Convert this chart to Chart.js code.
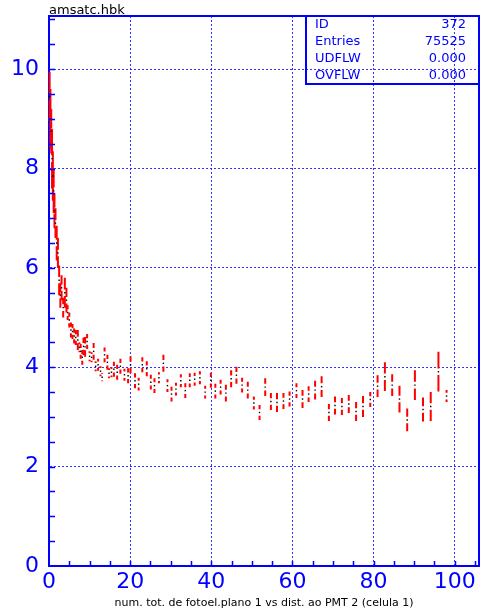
<!DOCTYPE html>
<html>
<head>
<meta charset="utf-8">
<script src="https://cdn.jsdelivr.net/npm/chart.js@4.4.1/dist/chart.umd.min.js"></script>
<style>
  html, body { margin: 0; padding: 0; background: #fff; }
  #caixa { width: 483px; height: 614px; }
</style>
</head>
<body>
<div id="caixa"><canvas id="grafico"></canvas></div>
<script>
// pontos do perfil (distancia, media, erro)
const posX = [
  0.15, 0.35, 0.55, 0.75, 0.95, 1.15, 1.35, 1.6, 1.9, 2.2,
  2.5, 2.8, 3.1, 3.5, 3.9, 4.3, 4.6, 5.0, 5.4, 5.8,
  6.2, 6.6, 7.1, 7.5, 7.8, 8.2, 8.5, 8.9, 9.4, 10.0,
  10.5, 11.0, 11.5, 12.1, 12.7, 13.1, 13.7, 14.4, 14.8, 15.4,
  16.0, 16.8, 17.6, 18.6, 19.5,
  20.1, 21.2, 22.1, 23.0, 24.1, 25.1, 26.0, 27.1, 28.2, 29.2,
  30.2, 31.3, 32.5, 33.6, 34.7, 35.9, 37.2, 38.5, 39.9, 41.0,
  42.3, 43.6, 44.9, 46.2, 47.6, 49.0, 50.5, 51.9, 53.3, 54.7,
  56.2, 57.8, 59.3, 61.0, 62.5, 64.0, 65.6, 67.2, 69.0, 70.5,
  72.2, 73.9, 75.7, 77.4, 79.2, 81.0, 82.8, 84.6, 86.4, 88.3,
  90.2, 92.2, 94.1, 96.0, 98.0
];
const media = [
  9.45, 9.0, 8.75, 8.2, 7.85, 7.55, 7.15, 6.9, 6.5, 6.3,
  5.75, 5.45, 5.6, 5.2, 5.5, 5.35, 5.1, 4.95, 4.75, 4.72,
  4.63, 4.6, 4.55, 4.4, 4.32, 4.2, 4.42, 4.41, 4.52, 4.22,
  4.2, 4.32, 4.02, 4.05, 3.92, 3.8, 4.25, 4.1, 3.88, 3.9,
  3.96, 3.9, 4.02, 3.85, 3.83,
  4.05, 3.73, 3.66, 4.05, 3.97, 3.70, 3.63, 3.79, 4.08, 3.63,
  3.46, 3.56, 3.73, 3.53, 3.74, 3.76, 3.79, 3.50, 3.74, 3.52,
  3.60, 3.48, 3.77, 3.84, 3.64, 3.54, 3.28, 3.09, 3.60, 3.31,
  3.29, 3.32, 3.36, 3.53, 3.36, 3.46, 3.54, 3.61, 3.09, 3.23,
  3.21, 3.26, 3.11, 3.21, 3.35, 3.62, 3.81, 3.64, 3.36, 2.94,
  3.64, 3.15, 3.21, 3.91, 3.42
];
const erro = [
  0.5, 0.6, 0.45, 0.6, 0.5, 0.45, 0.35, 0.3, 0.35, 0.3,
  0.3, 0.25, 0.25, 0.2, 0.3, 0.25, 0.15, 0.15, 0.15, 0.15,
  0.15, 0.15, 0.2, 0.1, 0.15, 0.15, 0.18, 0.2, 0.15, 0.1,
  0.1, 0.17, 0.1, 0.12, 0.1, 0.08, 0.15, 0.15, 0.1, 0.1,
  0.15, 0.15, 0.15, 0.12, 0.15,
  0.17, 0.15, 0.13, 0.15, 0.15, 0.15, 0.15, 0.11, 0.17, 0.13,
  0.15, 0.13, 0.13, 0.15, 0.14, 0.13, 0.13, 0.13, 0.15, 0.15,
  0.15, 0.17, 0.17, 0.17, 0.15, 0.17, 0.13, 0.15, 0.18, 0.17,
  0.19, 0.16, 0.15, 0.15, 0.18, 0.16, 0.19, 0.21, 0.17, 0.18,
  0.17, 0.18, 0.19, 0.21, 0.15, 0.22, 0.29, 0.22, 0.27, 0.23,
  0.30, 0.24, 0.29, 0.40, 0.12
];

const ticksX = [0, 20, 40, 60, 80, 100];
const ticksY = [0, 2, 4, 6, 8, 10];
const estatNomes = ['ID', 'Entries', 'UDFLW', 'OVFLW'];
const estatValores = ['372', '75525', '0.000', '0.000'];
const nomeArquivo = 'amsatc.hbk';
const tituloX = 'num. tot. de fotoel.plano 1 vs dist. ao PMT 2 (celula 1)';

const azul = '#0000ff';
const corGrade = 'rgba(30, 30, 255, 0.9)';

// barras de erro vermelhas com um buraco em volta do ponto
const barrasErro = {
  id: 'barrasErro',
  beforeDatasetsDraw(chart) {
    const { ctx, scales: { x, y } } = chart;
    const buraco = 3.3;
    ctx.save();
    ctx.strokeStyle = '#ff0000';
    ctx.lineWidth = 2;
    ctx.beginPath();
    posX.forEach((v, i) => {
      const px = x.getPixelForValue(v);
      const pm = y.getPixelForValue(media[i]);
      const pCima = y.getPixelForValue(media[i] + erro[i]);
      const pBaixo = y.getPixelForValue(media[i] - erro[i]);
      if (pm - pCima > buraco) {
        ctx.moveTo(px, pCima);
        ctx.lineTo(px, pm - buraco);
      }
      if (pBaixo - pm > buraco) {
        ctx.moveTo(px, pm + buraco);
        ctx.lineTo(px, pBaixo);
      }
    });
    ctx.stroke();
    ctx.restore();
  }
};

// moldura, tracinhos para dentro, caixa de estatistica e nome do arquivo
const moldura = {
  id: 'moldura',
  afterDraw(chart) {
    const { ctx, chartArea: a, scales: { x, y } } = chart;
    ctx.save();
    ctx.strokeStyle = azul;
    ctx.lineWidth = 2;
    ctx.beginPath();
    ctx.moveTo(a.left, a.top);
    ctx.lineTo(a.right, a.top);
    ctx.lineTo(a.right, a.bottom);
    ctx.stroke();

    ctx.lineWidth = 1.5;
    ctx.beginPath();
    for (let v = 5; v < x.max; v += 5) {
      const px = Math.round(x.getPixelForValue(v)) + 0.5;
      ctx.moveTo(px, a.bottom);
      ctx.lineTo(px, a.bottom - 5);
    }
    for (let v = 0.5; v < y.max; v += 0.5) {
      const py = Math.round(y.getPixelForValue(v)) + 0.5;
      ctx.moveTo(a.left, py);
      ctx.lineTo(a.left + 6, py);
    }
    ctx.stroke();

    // caixa de estatistica
    const bx = 306, bw = a.right - bx, bh = 68;
    ctx.lineWidth = 2;
    ctx.strokeRect(bx, a.top, bw, bh);
    ctx.fillStyle = azul;
    ctx.font = '13px "DejaVu Sans"';
    ctx.textBaseline = 'middle';
    estatNomes.forEach((nome, i) => {
      const ly = a.top + 9 + i * 17;
      ctx.textAlign = 'left';
      ctx.fillText(nome, bx + 9, ly);
      ctx.textAlign = 'right';
      ctx.fillText(estatValores[i], a.right - 13, ly);
    });

    ctx.fillStyle = '#000';
    ctx.textAlign = 'left';
    ctx.textBaseline = 'alphabetic';
    ctx.font = '13px "DejaVu Sans"';
    ctx.fillText(nomeArquivo, a.left, a.top - 2);
    ctx.restore();
  }
};

const ctx = document.getElementById('grafico').getContext('2d');

const grafico = new Chart(ctx, {
  type: 'scatter',
  data: {
    datasets: [{
      label: 'perfil',
      data: posX.map((v, i) => ({ x: v, y: media[i] })),
      pointStyle: 'rect',
      pointRadius: 1,
      pointBorderWidth: 0,
      backgroundColor: '#000',
      borderColor: '#000'
    }]
  },
  plugins: [barrasErro, moldura],
  options: {
    responsive: true,
    maintainAspectRatio: false,
    animation: false,
    layout: { padding: { top: 16, right: 2, left: 0, bottom: 0 } },
    plugins: {
      legend: { display: false },
      tooltip: { enabled: false }
    },
    scales: {
      x: {
        type: 'linear',
        min: 0,
        max: 106,
        afterBuildTicks: s => { s.ticks = ticksX.map(v => ({ value: v })); },
        afterFit: s => {
          s.height = 48;
          s.paddingLeft = 0;
          s.paddingRight = 0;
        },
        border: { color: azul, width: 2, dash: [2, 2] },
        grid: {
          drawTicks: false,
          lineWidth: 1,
          color: c => (c.tick && c.tick.value !== 0) ? corGrade : 'transparent'
        },
        ticks: {
          autoSkip: false,
          maxRotation: 0,
          padding: 3,
          color: azul,
          font: { family: '"DejaVu Sans"', size: 22 }
        },
        title: {
          display: true,
          text: tituloX,
          color: '#000',
          font: { family: '"DejaVu Sans"', size: 11 },
          padding: { top: 4, bottom: 4 }
        }
      },
      y: {
        type: 'linear',
        min: 0,
        max: 11.07,
        afterBuildTicks: s => { s.ticks = ticksY.map(v => ({ value: v })); },
        afterFit: s => {
          s.width = 49;
          s.paddingTop = 0;
          s.paddingBottom = 0;
        },
        border: { color: azul, width: 2, dash: [2, 2] },
        grid: {
          drawTicks: false,
          lineWidth: 1,
          color: c => (c.tick && c.tick.value !== 0) ? corGrade : 'transparent'
        },
        ticks: {
          padding: 10,
          color: azul,
          font: { family: '"DejaVu Sans"', size: 22 }
        }
      }
    }
  }
});
</script>
</body>
</html>
